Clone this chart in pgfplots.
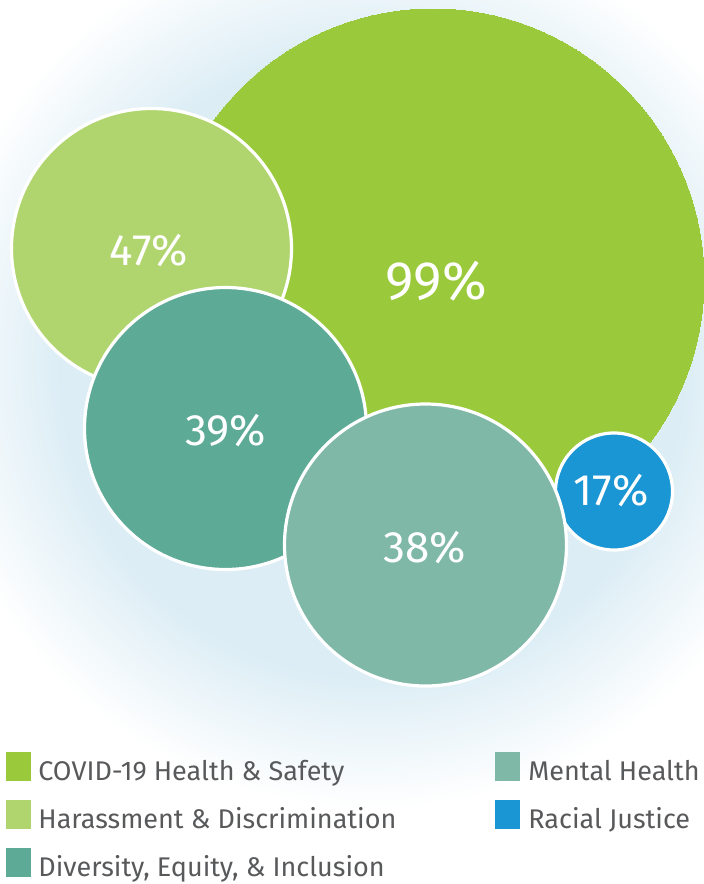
\documentclass[border=0pt]{standalone}
\usepackage{pgfplots}
\pgfplotsset{compat=1.18}
\usepackage{fontspec}
\setmainfont{Fira Sans}
\definecolor{cgreen}{HTML}{9ACA3C}
\definecolor{clgreen}{HTML}{B0D56E}
\definecolor{cteal}{HTML}{5DAA96}
\definecolor{cmint}{HTML}{80B8A8}
\definecolor{cblue}{HTML}{1B96D4}
\definecolor{ctext}{HTML}{58595B}
\definecolor{cglow}{HTML}{DCEDF5}
\pgfdeclareradialshading{glow}{\pgfpoint{0bp}{0bp}}{color(0bp)=(cglow); color(17.5bp)=(cglow); color(25bp)=(white); color(50bp)=(white)}
\begin{document}
\begin{tikzpicture}
\begin{axis}[scale only axis, width=352pt, height=442pt,
  xmin=0, xmax=704, ymin=0, ymax=884, y dir=reverse,
  axis lines=none, clip=false, clip marker paths=true]
\path[shading=glow] (axis cs:372,365) circle [radius=222pt];
% bubbles (centre x, centre y in px; radius as mark size)
\addplot[only marks, mark=*, color=cgreen, mark size=135.5pt, mark options={fill=cgreen, draw=cgreen, line width=0pt}] coordinates {(433,280)};
\addplot[only marks, mark=*, color=clgreen, mark size=70pt, mark options={fill=clgreen, draw=white, line width=1.6pt}] coordinates {(151.5,248.5)};
\addplot[only marks, mark=*, color=cteal, mark size=70.5pt, mark options={fill=cteal, draw=white, line width=1.6pt}] coordinates {(225.5,428.5)};
\addplot[only marks, mark=*, color=cblue, mark size=29.25pt, mark options={fill=cblue, draw=white, line width=1.6pt}] coordinates {(614,491.5)};
\addplot[only marks, mark=*, color=cmint, mark size=70.5pt, mark options={fill=cmint, draw=white, line width=1.6pt}] coordinates {(425.5,545)};
% labels
\node[anchor=base, text=white, font=\fontsize{27}{30}\selectfont] at (axis cs:436,299) {99\%};
\node[anchor=base, text=white, font=\fontsize{22}{26}\selectfont] at (axis cs:149,265) {47\%};
\node[anchor=base, text=white, font=\fontsize{22}{26}\selectfont] at (axis cs:225.5,445) {39\%};
\node[anchor=base, text=white, font=\fontsize{22}{26}\selectfont] at (axis cs:425,562.7) {38\%};
\node[anchor=base, text=white, font=\fontsize{22}{26}\selectfont] at (axis cs:611.5,505) {17\%};
% legend
\addplot[only marks, mark=square*, color=cgreen, mark size=7pt, mark options={xscale=0.857, fill=cgreen, draw=none}] coordinates {(18,766.5)};
\addplot[only marks, mark=square*, color=clgreen, mark size=7pt, mark options={xscale=0.857, fill=clgreen, draw=none}] coordinates {(18,814)};
\addplot[only marks, mark=square*, color=cteal, mark size=7pt, mark options={xscale=0.857, fill=cteal, draw=none}] coordinates {(18,862.5)};
\addplot[only marks, mark=square*, color=cmint, mark size=7pt, mark options={xscale=0.857, fill=cmint, draw=none}] coordinates {(507,766.5)};
\addplot[only marks, mark=square*, color=cblue, mark size=7pt, mark options={xscale=0.857, fill=cblue, draw=none}] coordinates {(507,814)};
\begin{scope}[every node/.style={anchor=base west, inner sep=0pt, text=ctext, font=\fontsize{13.5}{16}\selectfont}]
\node at (axis cs:38,780) {COVID-19 Health \& Safety};
\node at (axis cs:38,828.3) {Harassment \& Discrimination};
\node at (axis cs:38,876.7) {Diversity, Equity, \& Inclusion};
\node at (axis cs:528,780) {Mental Health};
\node at (axis cs:528,828.3) {Racial Justice};
\end{scope}
\end{axis}
\pgfresetboundingbox
\path (current axis.south west) rectangle (current axis.north east);
\end{tikzpicture}
\end{document}
